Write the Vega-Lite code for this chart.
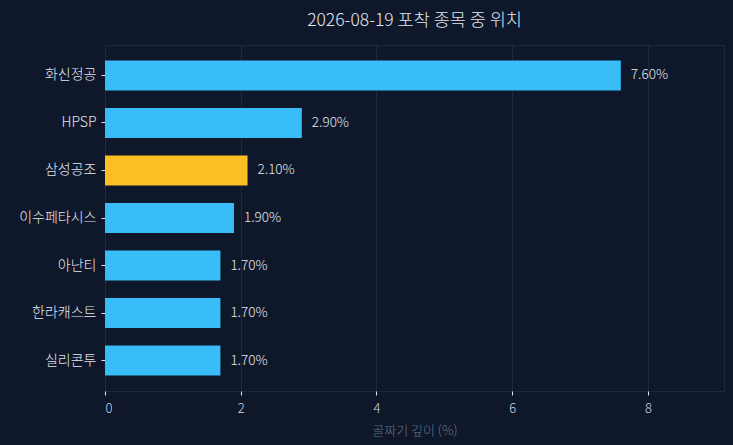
{
  "$schema": "https://vega.github.io/schema/vega-lite/v6.json",
  "width": 619,
  "height": 346,
  "autosize": {"type": "none"},
  "padding": {"left": 105, "right": 9, "top": 45, "bottom": 54},
  "background": "#0f172a",
  "config": {
    "font": "Noto Sans CJK KR",
    "view": {"stroke": "#1e293b", "strokeWidth": 1}
  },
  "title": {
    "text": "2026-08-19 포착 종목 중 위치",
    "color": "#e2e8f0",
    "fontSize": 17.5,
    "fontWeight": 300,
    "offset": 16
  },
  "data": {
    "values": [
      {"name": "화신정공", "depth": 7.6, "highlight": "no"},
      {"name": "HPSP", "depth": 2.9, "highlight": "no"},
      {"name": "삼성공조", "depth": 2.1, "highlight": "yes"},
      {"name": "이수페타시스", "depth": 1.9, "highlight": "no"},
      {"name": "아난티", "depth": 1.7, "highlight": "no"},
      {"name": "한라캐스트", "depth": 1.7, "highlight": "no"},
      {"name": "실리콘투", "depth": 1.7, "highlight": "no"}
    ]
  },
  "encoding": {
    "y": {
      "field": "name",
      "type": "nominal",
      "sort": null,
      "scale": {"paddingInner": 0.368, "paddingOuter": 0.326},
      "axis": {
        "title": null,
        "labelColor": "#e2e8f0",
        "labelFontSize": 14,
        "labelFontWeight": 300,
        "tickColor": "#e2e8f0",
        "tickSize": 4,
        "domain": false,
        "grid": false,
        "labelPadding": 5
      }
    },
    "x": {
      "field": "depth",
      "type": "quantitative",
      "scale": {"domain": [0, 9.12], "nice": false},
      "axis": {
        "title": "골짜기 깊이 (%)",
        "titleColor": "#64748b",
        "titleFontSize": 13,
        "titleFontWeight": 300,
        "titlePadding": 9,
        "labelColor": "#cbd5e1",
        "labelFontSize": 13,
        "labelFontWeight": 300,
        "labelPadding": 7,
        "tickColor": "#e2e8f0",
        "tickSize": 4,
        "gridColor": "#1e293b",
        "domain": false,
        "values": [0, 2, 4, 6, 8]
      }
    }
  },
  "layer": [
    {
      "mark": {"type": "bar", "strokeWidth": 0},
      "encoding": {
        "color": {
          "field": "highlight",
          "type": "nominal",
          "scale": {"domain": ["no", "yes"], "range": ["#38bdf8", "#fbbf24"]},
          "legend": null
        }
      }
    },
    {
      "mark": {"type": "text", "align": "left", "dx": 10, "color": "#e2e8f0", "fontSize": 13.5, "fontWeight": 300},
      "encoding": {
        "text": {"field": "label", "type": "nominal"}
      },
      "transform": [
        {"calculate": "format(datum.depth, '.2f') + '%'", "as": "label"}
      ]
    }
  ]
}
